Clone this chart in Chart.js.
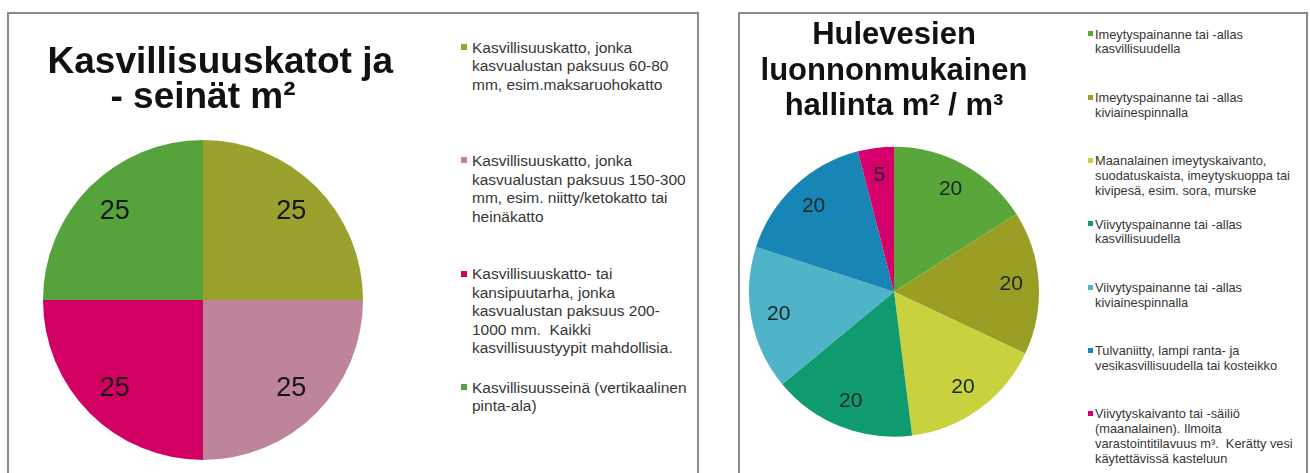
<!DOCTYPE html>
<html lang="fi">
<head>
<meta charset="utf-8">
<title>Kasvillisuuskatot ja hulevedet</title>
<script src="https://cdn.jsdelivr.net/npm/chart.js"></script>
<style>
    html, body { margin: 0; padding: 0; background: #ffffff; }
    body { width: 1310px; height: 473px; position: relative; overflow: hidden; font-family: 'Liberation Sans', Arial, sans-serif; }
    .panel { position: absolute; box-sizing: border-box; border: 2px solid #8a8a8a; background: #ffffff; }
    canvas { position: absolute; }
    .legend-item { position: absolute; color: #363636; white-space: pre; }
    .legend-item i { position: absolute; left: 0; display: block; }
</style>
</head>
<body>

<div class="panel" style="left:7px; top:12px; width:692px; height:500px;"></div>
<div class="panel" style="left:738px; top:12px; width:570px; height:500px;"></div>

<canvas id="roofChart" width="430" height="459" style="left:9px; top:14px;"></canvas>
<canvas id="stormChart" width="340" height="459" style="left:741px; top:14px;"></canvas>

<div id="roofLegend"></div>
<div id="stormLegend"></div>

<script>
const FONT = "'Liberation Sans', Arial, sans-serif";

// --- Kasvillisuuskatot ja -seinät ---
const roofLabels = [
    ['Kasvillisuuskatto, jonka', 'kasvualustan paksuus 60-80', 'mm, esim.maksaruohokatto'],
    ['Kasvillisuuskatto, jonka', 'kasvualustan paksuus 150-300', 'mm, esim. niitty/ketokatto tai', 'heinäkatto'],
    ['Kasvillisuuskatto- tai', 'kansipuutarha, jonka', 'kasvualustan paksuus 200-', '1000 mm.  Kaikki', 'kasvillisuustyypit mahdollisia.'],
    ['Kasvillisuusseinä (vertikaalinen', 'pinta-ala)']
];
const roofValues = [25, 25, 25, 25];
const roofColors = ['#9ba12d', '#be849b', '#d20062', '#56a33b'];

// --- Hulevesien luonnonmukainen hallinta ---
const stormLabels = [
    ['Imeytyspainanne tai -allas', 'kasvillisuudella'],
    ['Imeytyspainanne tai -allas', 'kiviainespinnalla'],
    ['Maanalainen imeytyskaivanto,', 'suodatuskaista, imeytyskuoppa tai', 'kivipesä, esim. sora, murske'],
    ['Viivytyspainanne tai -allas', 'kasvillisuudella'],
    ['Viivytyspainanne tai -allas', 'kiviainespinnalla'],
    ['Tulvaniitty, lampi ranta- ja', 'vesikasvillisuudella tai kosteikko'],
    ['Viivytyskaivanto tai -säiliö', '(maanalainen). Ilmoita', 'varastointitilavuus m³.  Kerätty vesi', 'käytettävissä kasteluun']
];
const stormValues = [20, 20, 20, 20, 20, 20, 5];
const stormColors = ['#5aa63b', '#9b9e25', '#c8d23f', '#0f9a6f', '#4fb4c7', '#1886b5', '#d5006b'];

// value labels placed along each slice's middle angle
const sliceValueLabels = {
    id: 'sliceValueLabels',
    afterDatasetsDraw(chart, args, opts) {
        const c = chart.ctx;
        const meta = chart.getDatasetMeta(0);
        const values = chart.data.datasets[0].data;
        c.save();
        c.font = opts.font;
        c.fillStyle = opts.color;
        c.textAlign = 'center';
        c.textBaseline = 'middle';
        meta.data.forEach((arc, i) => {
            const mid = (arc.startAngle + arc.endAngle) / 2;
            const r = arc.outerRadius * opts.at;
            c.fillText(values[i], arc.x + Math.cos(mid) * r, arc.y + Math.sin(mid) * r);
        });
        c.restore();
    }
};

const roofCtx = document.getElementById('roofChart').getContext('2d');
const roofChart = new Chart(roofCtx, {
    type: 'pie',
    data: {
        labels: roofLabels,
        datasets: [{
            data: roofValues,
            backgroundColor: roofColors,
            borderWidth: 0
        }]
    },
    options: {
        responsive: false,
        animation: false,
        devicePixelRatio: 1,
        layout: { padding: { top: 0, left: 4, right: 46, bottom: 13 } },
        plugins: {
            legend: { display: false },
            tooltip: { enabled: false },
            title: {
                display: true,
                text: 'Kasvillisuuskatot ja',
                align: 'end',
                color: '#111111',
                font: { family: FONT, size: 37, weight: 'bold', lineHeight: '32px' },
                padding: { top: 33, bottom: 0 }
            },
            subtitle: {
                display: true,
                text: '- seinät m²',
                align: 'center',
                color: '#111111',
                font: { family: FONT, size: 37, weight: 'bold', lineHeight: '32px' },
                padding: { top: 3, bottom: 26 }
            },
            sliceValueLabels: { font: '27px ' + FONT, color: '#161616', at: 0.78 }
        }
    },
    plugins: [sliceValueLabels]
});

const stormCtx = document.getElementById('stormChart').getContext('2d');
const stormChart = new Chart(stormCtx, {
    type: 'pie',
    data: {
        labels: stormLabels,
        datasets: [{
            data: stormValues,
            backgroundColor: stormColors,
            borderWidth: 0
        }]
    },
    options: {
        responsive: false,
        animation: false,
        devicePixelRatio: 1,
        layout: { padding: { top: 0, left: 8, right: 42, bottom: 36 } },
        plugins: {
            legend: { display: false },
            tooltip: { enabled: false },
            title: {
                display: true,
                text: ['Hulevesien', 'luonnonmukainen', 'hallinta m² / m³'],
                color: '#111111',
                font: { family: FONT, size: 31, weight: 'bold', lineHeight: '35.5px' },
                padding: { top: 4, bottom: 22 }
            },
            sliceValueLabels: { font: '21px ' + FONT, color: '#1b2626', at: 0.81 }
        }
    },
    plugins: [sliceValueLabels]
});

// HTML legends built from each chart's own labels and colours
function buildLegend(chart, el, cfg) {
    const ds = chart.data.datasets[0];
    chart.data.labels.forEach((lines, i) => {
        const item = document.createElement('div');
        item.className = 'legend-item';
        item.style.left = cfg.x + 'px';
        item.style.top = (cfg.firstY + i * cfg.step - cfg.lineHeight / 2) + 'px';
        item.style.fontSize = cfg.fontSize + 'px';
        item.style.lineHeight = cfg.lineHeight + 'px';

        const box = document.createElement('i');
        box.style.width = cfg.box + 'px';
        box.style.height = cfg.box + 'px';
        box.style.top = ((cfg.lineHeight - cfg.box) / 2 - 1) + 'px';
        box.style.background = ds.backgroundColor[i];
        item.appendChild(box);

        const text = document.createElement('div');
        text.style.marginLeft = cfg.textGap + 'px';
        text.textContent = lines.join('\n');
        item.appendChild(text);

        el.appendChild(item);
    });
}

buildLegend(roofChart, document.getElementById('roofLegend'), {
    x: 461, firstY: 48, step: 113.3, fontSize: 15.5, lineHeight: 18.5, box: 6, textGap: 11
});
buildLegend(stormChart, document.getElementById('stormLegend'), {
    x: 1088, firstY: 35, step: 63.3, fontSize: 12.8, lineHeight: 14.8, box: 5, textGap: 7
});
</script>
</body>
</html>
